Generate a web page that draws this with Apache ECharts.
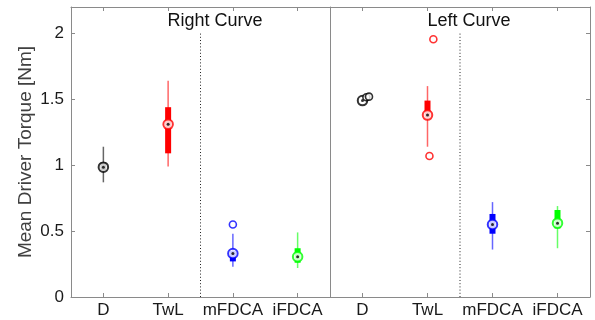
<!DOCTYPE html>
<html>
<head>
<meta charset="utf-8">
<script src="https://cdn.jsdelivr.net/npm/echarts@6/dist/echarts.min.js"></script>
<style>html,body{margin:0;padding:0;background:#fff;}#c{width:595px;height:320px;}</style>
</head>
<body>
<div id="c"></div>
<script>
// ---- data ----
const categories = ['D', 'TwL', 'mFDCA', 'iFDCA'];
const yTicks = [0, 0.5, 1, 1.5, 2];
const panelTitles = ['Right Curve', 'Left Curve'];

// Right Curve panel
const rightLow    = [0.87, 0.99, 0.23, 0.22];
const rightQ1     = [0.96, 1.09, 0.27, 0.26];
const rightMedian = [0.985, 1.31, 0.33, 0.305];
const rightQ3     = [1.02, 1.44, 0.35, 0.37];
const rightHigh   = [1.14, 1.64, 0.48, 0.49];
// [category index, jitter, value]
const rightOutliers = [[2, 0.0, 0.55]];

// Left Curve panel
const leftLow    = [1.49, 1.14, 0.36, 0.37];
const leftQ1     = [1.49, 1.36, 0.48, 0.52];
const leftMedian = [1.49, 1.38, 0.55, 0.56];
const leftQ3     = [1.49, 1.49, 0.63, 0.66];
const leftHigh   = [1.49, 1.60, 0.72, 0.69];
const leftOutliers = [[0, 0.06, 1.515], [0, 0.10, 1.52], [1, 0.09, 1.955], [1, 0.03, 1.07]];

// separator (between TwL and mFDCA), from 0 to 2
const separatorX = 1.5;
const separatorRange = [0, 2];

// ---- styles ----
const groupColors = ['#000000', '#ff0000', '#0000ff', '#00ff00'];
const FONT = 'Liberation Sans, Arial, Helvetica, sans-serif';
const AX = '#8a8a8a';

const chart = echarts.init(document.getElementById('c'), null, {renderer: 'canvas'});

function panelSeries(p, low, q1, med, q3, high, outl) {
  const xi = p * 3 + 2; // hidden value x axis
  const yi = p === 0 ? 0 : 1;
  const boxData = categories.map((c, i) => [i, low[i], q1[i], q3[i], high[i]]);
  return [
    {
      type: 'custom', xAxisIndex: xi, yAxisIndex: yi, z: 3,
      data: boxData,
      renderItem: function (params, api) {
        const x = api.value(0);
        const c = groupColors[x];
        const lo = api.coord([x, api.value(1)]);
        const a = api.coord([x, api.value(2)]);
        const b = api.coord([x, api.value(3)]);
        const hi = api.coord([x, api.value(4)]);
        return {
          type: 'group',
          children: [
            {type: 'line', shape: {x1: lo[0], y1: lo[1], x2: hi[0], y2: hi[1]},
             style: {stroke: c, lineWidth: 1.5, opacity: 0.6}},
            {type: 'rect', shape: {x: a[0] - 3, y: b[1], width: 6, height: Math.max(a[1] - b[1], 0)},
             style: {fill: c}}
          ]
        };
      }
    },
    {
      type: 'scatter', xAxisIndex: xi, yAxisIndex: yi, z: 4,
      symbol: 'circle', symbolSize: 9.5, silent: true,
      data: med.map((v, i) => ({value: [i, v], itemStyle: {color: '#ffffff', borderColor: groupColors[i], borderWidth: 2}}))
    },
    {
      type: 'scatter', xAxisIndex: xi, yAxisIndex: yi, z: 5,
      symbol: 'circle', symbolSize: 3, silent: true,
      itemStyle: {color: '#000000'},
      data: med.map((v, i) => [i, v])
    },
    {
      type: 'scatter', xAxisIndex: xi, yAxisIndex: yi, z: 6,
      symbol: 'circle', symbolSize: 7, silent: true,
      data: outl.map(o => ({value: [o[0] + o[1], o[2]], itemStyle: {color: '#ffffff', borderColor: groupColors[o[0]], borderWidth: 1.6}}))
    },
    {
      type: 'line', xAxisIndex: xi, yAxisIndex: yi, z: 2, symbol: 'none', silent: true,
      lineStyle: {color: '#222', width: 1, type: [1, 2.2]},
      data: separatorRange.map(v => [separatorX, v])
    }
  ];
}

const catAxis = (g, pos) => ({
  type: 'category', gridIndex: g, position: pos, data: categories, boundaryGap: true,
  axisLine: {show: true, onZero: false, lineStyle: {color: AX, width: 1}},
  axisTick: {show: true, inside: true, length: 4, alignWithLabel: true, lineStyle: {color: AX}},
  axisLabel: {show: pos === 'bottom', interval: 0, color: '#1a1a1a', fontSize: 17, fontFamily: FONT, margin: 5},
  splitLine: {show: false}
});
const valX = g => ({type: 'value', gridIndex: g, min: -0.5, max: 3.5, show: false});

const yAx = (g, pos, ticks, labels) => ({
  type: 'value', gridIndex: g, position: pos, min: 0, max: 2.2, interval: 0.5,
  axisLine: {show: true, onZero: false, lineStyle: {color: AX, width: 1}},
  axisTick: {show: ticks, inside: true, length: 4, lineStyle: {color: AX}},
  axisLabel: {show: labels, color: '#1a1a1a', fontSize: 17, fontFamily: FONT, margin: 7, showMaxLabel: false,
              formatter: v => (yTicks.indexOf(v) >= 0 ? String(v) : '')},
  splitLine: {show: false},
  name: labels ? 'Mean Driver Torque [Nm]' : '',
  nameLocation: 'middle', nameGap: 36,
  nameTextStyle: {color: '#404040', fontSize: 19, fontFamily: FONT}
});

chart.setOption({
  animation: false,
  backgroundColor: '#ffffff',
  grid: [
    {left: 71, top: 7, width: 259, height: 290},
    {left: 330, top: 7, width: 260, height: 290}
  ],
  xAxis: [
    catAxis(0, 'bottom'), catAxis(0, 'top'), valX(0),
    catAxis(1, 'bottom'), catAxis(1, 'top'), valX(1)
  ],
  yAxis: [
    yAx(0, 'left', true, true),
    yAx(1, 'right', true, false),
    yAx(1, 'left', false, false)
  ],
  graphic: [
    {type: 'text', style: {text: panelTitles[0], x: 215, y: 21, align: 'center', verticalAlign: 'middle', fill: '#111', fontSize: 18, fontFamily: FONT}},
    {type: 'text', style: {text: panelTitles[1], x: 469, y: 21, align: 'center', verticalAlign: 'middle', fill: '#111', fontSize: 18, fontFamily: FONT}}
  ],
  series: [].concat(
    panelSeries(0, rightLow, rightQ1, rightMedian, rightQ3, rightHigh, rightOutliers),
    panelSeries(1, leftLow, leftQ1, leftMedian, leftQ3, leftHigh, leftOutliers)
  )
});
</script>
</body>
</html>
